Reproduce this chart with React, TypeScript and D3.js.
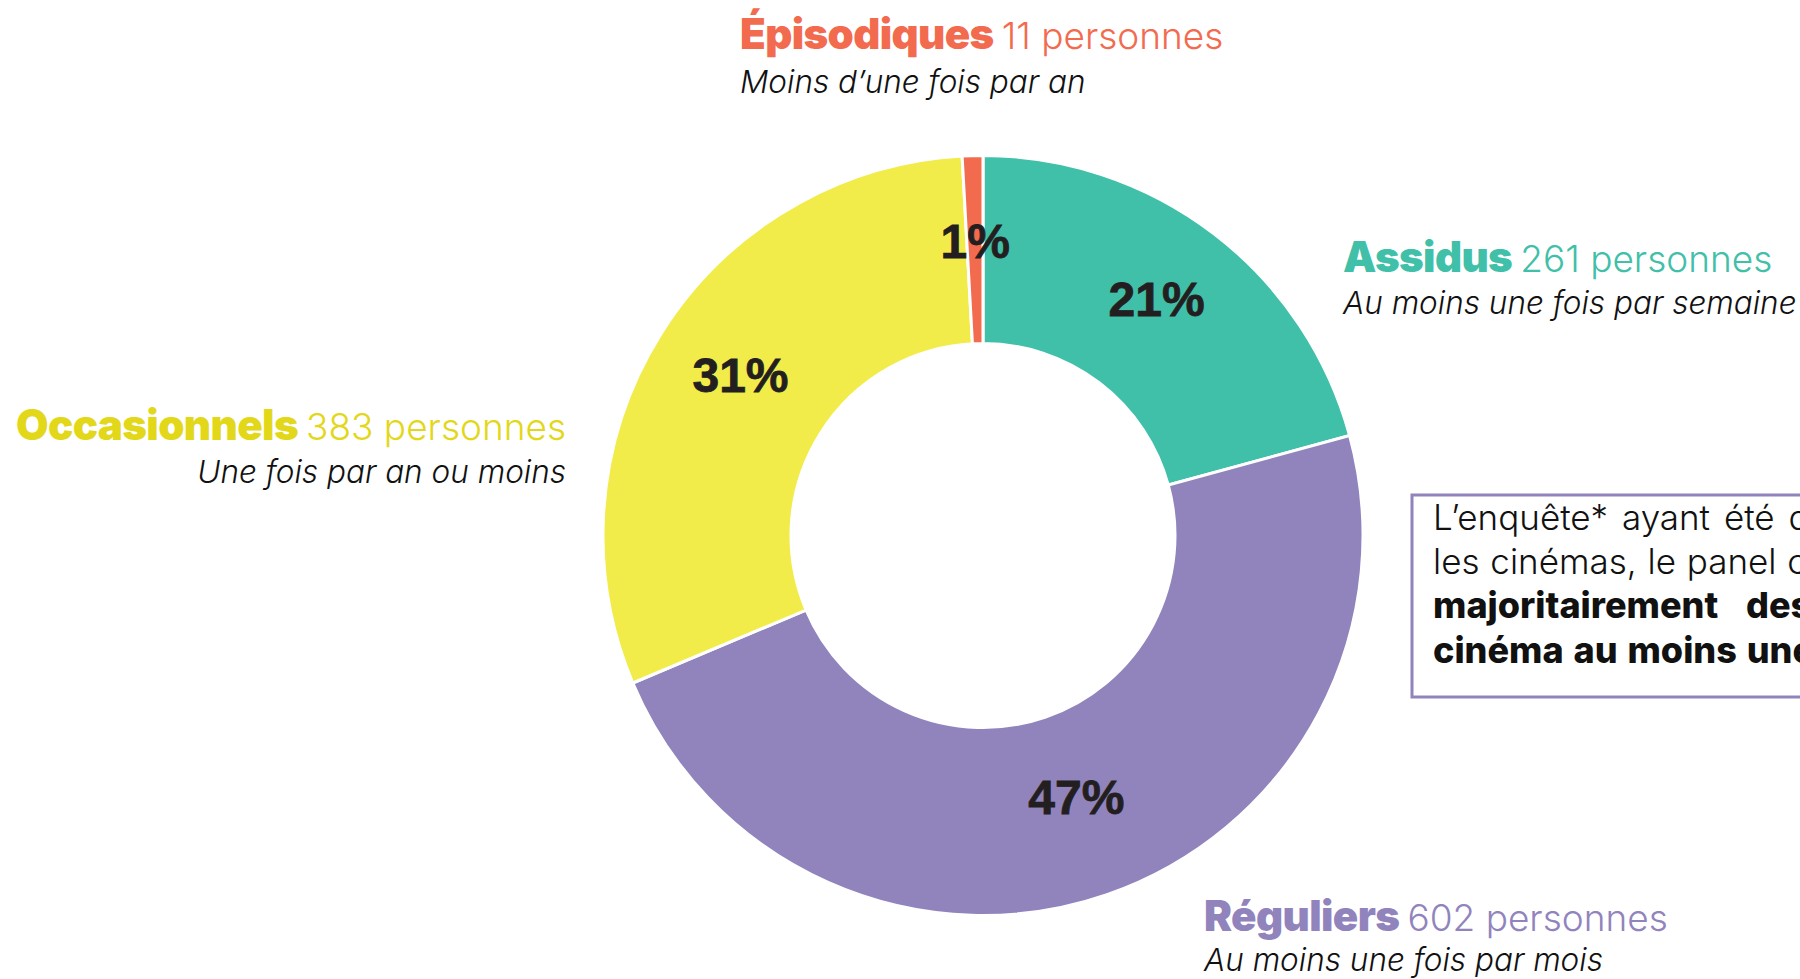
import React from "react";
import * as d3 from "d3";

const categories = ["Assidus", "Réguliers", "Occasionnels", "Épisodiques"];
const counts = [261, 602, 383, 11];
const percentLabels = ["21%", "47%", "31%", "1%"];
const countLabels = ["261 personnes", "602 personnes", "383 personnes", "11 personnes"];
const frequencies = [
  "Au moins une fois par semaine",
  "Au moins une fois par mois",
  "Une fois par an ou moins",
  "Moins d’une fois par an",
];
const sliceColors = ["#41c0a9", "#9184bd", "#f2ec4a", "#f26b4f"];
const titleColors = ["#41c0a9", "#9184bd", "#e2d819", "#f26b4f"];

const W = 1800;
const H = 979;
const CX = 983;
const CY = 535.5;
const R_OUT = 380;
const R_IN = 192;

// label anchor blocks: [x, titleBaseline, subBaseline, anchor]
const labelPos: [number, number, number, "start" | "end"][] = [
  [1343, 272, 314, "start"],
  [1204, 931, 971, "start"],
  [566, 440, 483, "end"],
  [740, 49, 93, "start"],
];

const TITLE_FONT = "Inter, 'Liberation Sans', Arial, sans-serif";

export default function App() {
  const data = categories.map((c, i) => ({ c, v: counts[i], i }));
  const pie = d3.pie<any>().sort(null).value((d) => d.v).startAngle(0).endAngle(2 * Math.PI);
  const arcs = pie(data);
  const arc = d3.arc<any>().innerRadius(R_IN).outerRadius(R_OUT);

  return (
    <svg
      width={W}
      height={H}
      viewBox={`0 0 ${W} ${H}`}
      style={{ position: "absolute", left: 0, top: 0, background: "#fff" }}
    >
      <g transform={`translate(${CX},${CY})`}>
        {arcs.map((a, i) => (
          <path key={i} d={arc(a) as string} fill={sliceColors[i]} stroke="#fff" strokeWidth={3} />
        ))}
        {arcs.map((a, i) => {
          const [x, y] = arc.centroid(a);
          return (
            <text
              key={"p" + i}
              x={x}
              y={y}
              dy={8}
              textAnchor="middle"
              fontFamily="'Liberation Sans', Arial, sans-serif"
              fontWeight={700}
              fontSize={48}
              fill="#231f20"
              stroke="#231f20"
              strokeWidth={0.8}
            >
              {percentLabels[i]}
            </text>
          );
        })}
      </g>

      {categories.map((c, i) => {
        const [x, ty, sy, anchor] = labelPos[i];
        return (
          <g key={"l" + i}>
            <text x={x} y={ty} textAnchor={anchor} fontFamily={TITLE_FONT} fill={titleColors[i]}>
              <tspan fontWeight={900} fontSize={42} letterSpacing={-0.6}>
                {c}
              </tspan>
              <tspan fontWeight={300} fontSize={37} dx={8}>
                {countLabels[i]}
              </tspan>
            </text>
            <text
              x={x}
              y={sy}
              textAnchor={anchor}
              fontFamily={TITLE_FONT}
              fontWeight={300}
              fontStyle="italic"
              fontSize={31.5}
              fill="#111"
            >
              {frequencies[i]}
            </text>
          </g>
        );
      })}

      <rect x={1412} y={495} width={420} height={202} fill="none" stroke="#9184bd" strokeWidth={3} />
      <g fontFamily={TITLE_FONT} fontSize={35} fill="#111">
        <text x={1433} y={530} fontWeight={300} wordSpacing={4}>
          L’enquête* ayant été diffusée dans
        </text>
        <text x={1433} y={574} fontWeight={300} wordSpacing={1}>
          les cinémas, le panel compte
        </text>
        <text y={618} fontWeight={800} fontSize={36}>
          <tspan x={1433}>majoritairement</tspan>
          <tspan x={1746}>des spectateurs</tspan>
        </text>
        <text x={1433} y={663} fontWeight={800} fontSize={36} wordSpacing={2}>
          cinéma au moins une fois par mois.
        </text>
      </g>
    </svg>
  );
}
